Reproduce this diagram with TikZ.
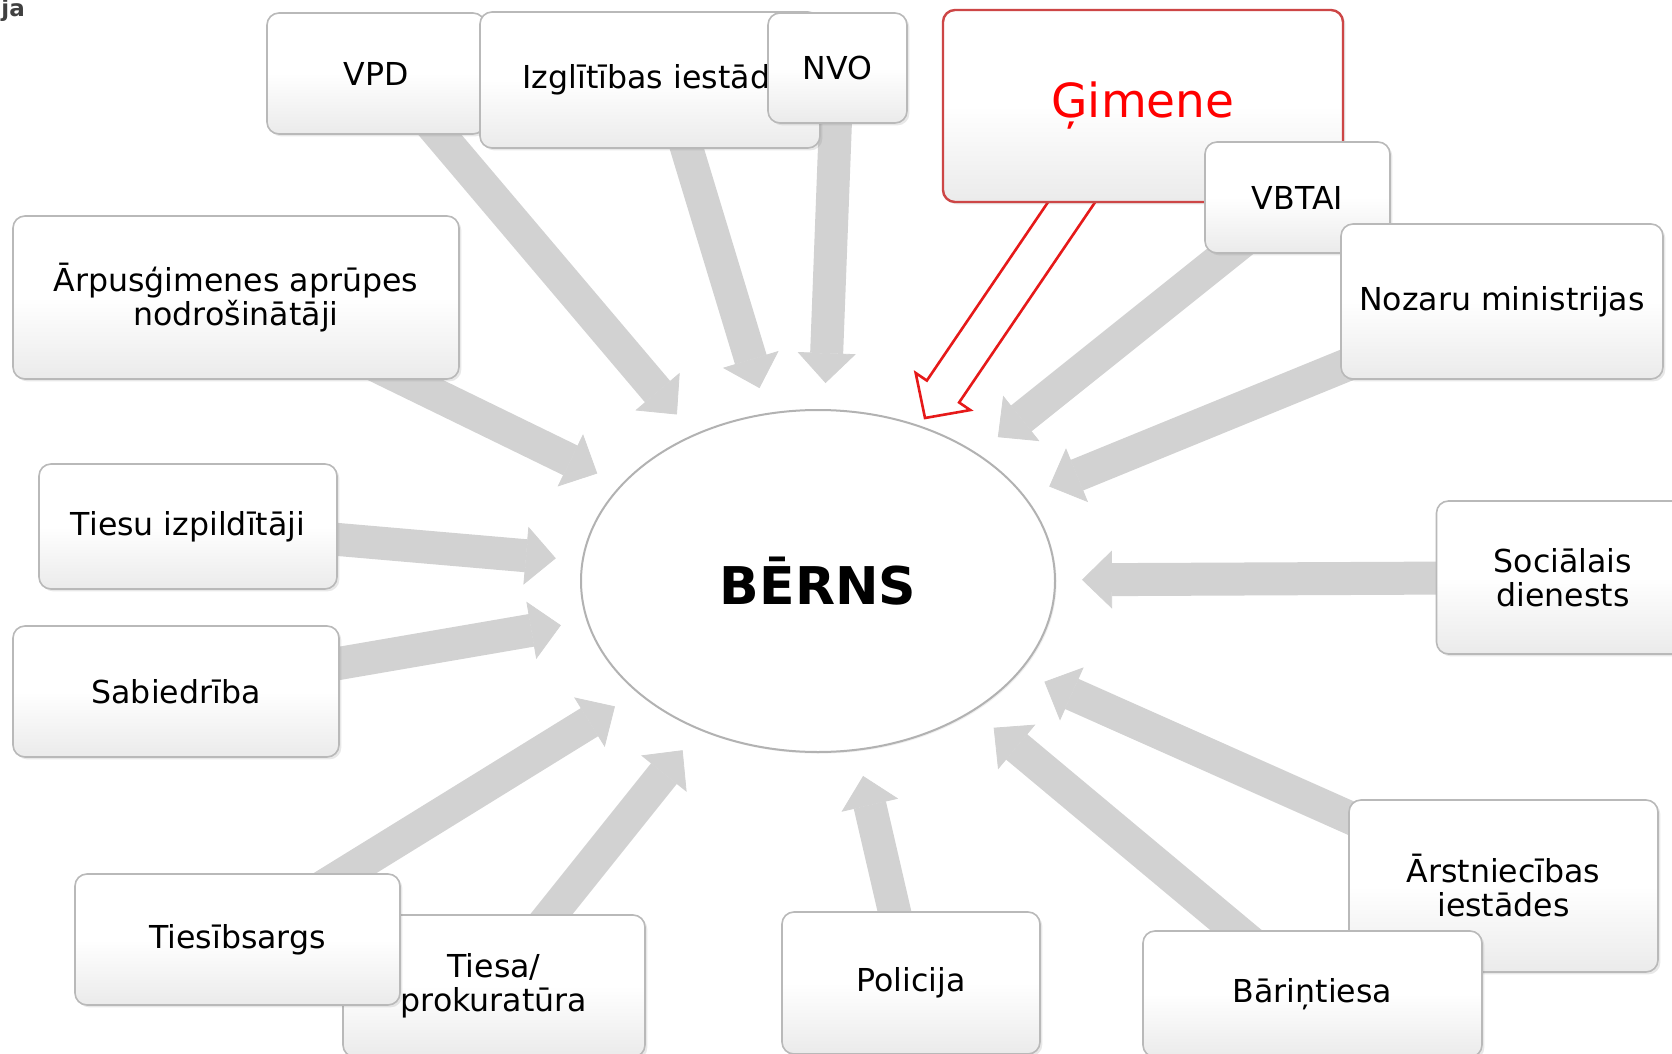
\documentclass[tikz,border=0pt]{standalone}
\usepackage{fontspec}
\setmainfont{DejaVu Sans}
\usetikzlibrary{arrows.meta,calc,backgrounds,shadows,shapes.geometric}

\begin{document}
\begin{tikzpicture}[x=0.5pt,y=-0.5pt,
    kaste/.style={draw=gray!55,line width=0.8pt,rounded corners=6pt,top color=white,bottom color=gray!16,middle color=white,
      drop shadow={opacity=0.18,shadow xshift=1.2pt,shadow yshift=-1.2pt},font=\fontsize{15.8}{17}\selectfont,align=center,inner sep=0pt},
    bulta/.style={line width=16.5pt,draw=gray!35,-{Triangle[width=29pt,length=15pt,line width=0.4pt]},shorten >=13pt},
    gimbulta/.style={draw={rgb,255:red,230;green,25;blue,25},fill=white,line width=1.3pt,line join=miter}]
    \useasboundingbox (0,0) rectangle (1672,1054);
    \node[anchor=base west,inner sep=0pt,text=black!75,font=\fontsize{11.5}{13}\selectfont\bfseries] (ja) at (1,17) {ja}; % nogriezts virsraksts
    % augsa
    \node[kaste,minimum width=109pt,minimum height=60.5pt] (vpd) at (376,73.5) {VPD};
    \node[kaste,minimum width=170pt,minimum height=68pt,text width=156pt,align=right] (izgl) at (650,80) {Izglītības iestādes};
    \node[kaste,minimum width=69.5pt,minimum height=55pt] (nvo) at (837.5,68) {NVO};
    \node[kaste,minimum width=200pt,minimum height=96pt,draw={rgb,255:red,205;green,70;blue,70},line width=1.2pt,
      text=red,font=\fontsize{23.5}{28}\selectfont] (gimene) at (1143,106) {Ģimene};
    \node[kaste,minimum width=92.5pt,minimum height=55.5pt] (vbtai) at (1297.5,197.5) {VBTAI};
    \node[kaste,minimum width=161pt,minimum height=77.5pt] (nozaru) at (1502,301.5) {Nozaru ministrijas};
    % kreisa puse
    \node[kaste,minimum width=223pt,minimum height=81.5pt] (arpus) at (236,297.5) {Ārpusģimenes aprūpes\\nodrošinātāji};
    \node[kaste,minimum width=149pt,minimum height=62.5pt] (tiesuizp) at (188,526.5) {Tiesu izpildītāji};
    \node[kaste,minimum width=163pt,minimum height=65.5pt] (sabiedr) at (176,691.5) {Sabiedrība};
    % laba puse
    \node[kaste,minimum width=126.5pt,minimum height=76.5pt] (sociala) at (1563,577.5) {Sociālais\\dienests};
    % apaksa
    \node[kaste,minimum width=151pt,minimum height=71pt] (tiesa) at (494,986) {Tiesa/\\prokuratūra};
    \node[kaste,minimum width=162.5pt,minimum height=65.5pt] (tiesibs) at (237.5,939.5) {Tiesībsargs};
    \node[kaste,minimum width=129pt,minimum height=71pt] (policija) at (911,983) {Policija};
    \node[kaste,minimum width=154.5pt,minimum height=86pt] (arstn) at (1503.5,886) {Ārstniecības\\iestādes};
    \node[kaste,minimum width=169.5pt,minimum height=63pt] (barint) at (1312.5,994) {Bāriņtiesa};
    % centrs
    \node[ellipse,draw=gray!60,line width=1pt,fill=white,inner sep=0pt,
      drop shadow={opacity=0.12,shadow xshift=0.8pt,shadow yshift=-0.8pt},
      minimum width=237pt,minimum height=171pt,font=\fontsize{26}{30}\selectfont\bfseries] (berns) at (818,581) {BĒRNS};

    \begin{scope}[on background layer]
    \fill[white] (0,0) rectangle (1672,1054);
    \draw[bulta] ([xshift=6pt]vpd.center) -- (berns);
    \draw[bulta] ([xshift=8pt]izgl.center) -- (berns);
    \draw[bulta] (nvo.center) -- (berns);
    \draw[bulta] (vbtai.center) -- (berns);
    \draw[bulta] (nozaru.center) -- (berns);
    \draw[bulta] (sociala.center) -- (berns);
    \draw[bulta] (arstn.center) -- (berns);
    \draw[bulta] (barint.center) -- (berns);
    \draw[bulta] (policija.center) -- (berns);
    \draw[bulta] (tiesa.center) -- (berns);
    \draw[bulta] (tiesibs.center) -- (berns);
    \draw[bulta] (sabiedr.center) -- (berns);
    \draw[bulta] (tiesuizp.center) -- (berns);
    \draw[bulta] (arpus.center) -- (berns);
    % gimenes bulta (tuksa)
    \coordinate (gtail) at (1107,150);
    \coordinate (gtip) at (925,418);
    \coordinate (gbase) at ($(gtip)!16pt!(gtail)$);
    \draw[gimbulta] ($(gtail)!9.75pt!90:(gtip)$) -- ($(gbase)!9.75pt!90:(gtip)$) -- ($(gbase)!16.5pt!90:(gtip)$) -- (gtip)
      -- ($(gbase)!16.5pt!-90:(gtip)$) -- ($(gbase)!9.75pt!-90:(gtip)$) -- ($(gtail)!9.75pt!-90:(gtip)$) -- cycle;
    \end{scope}
\end{tikzpicture}
\end{document}
